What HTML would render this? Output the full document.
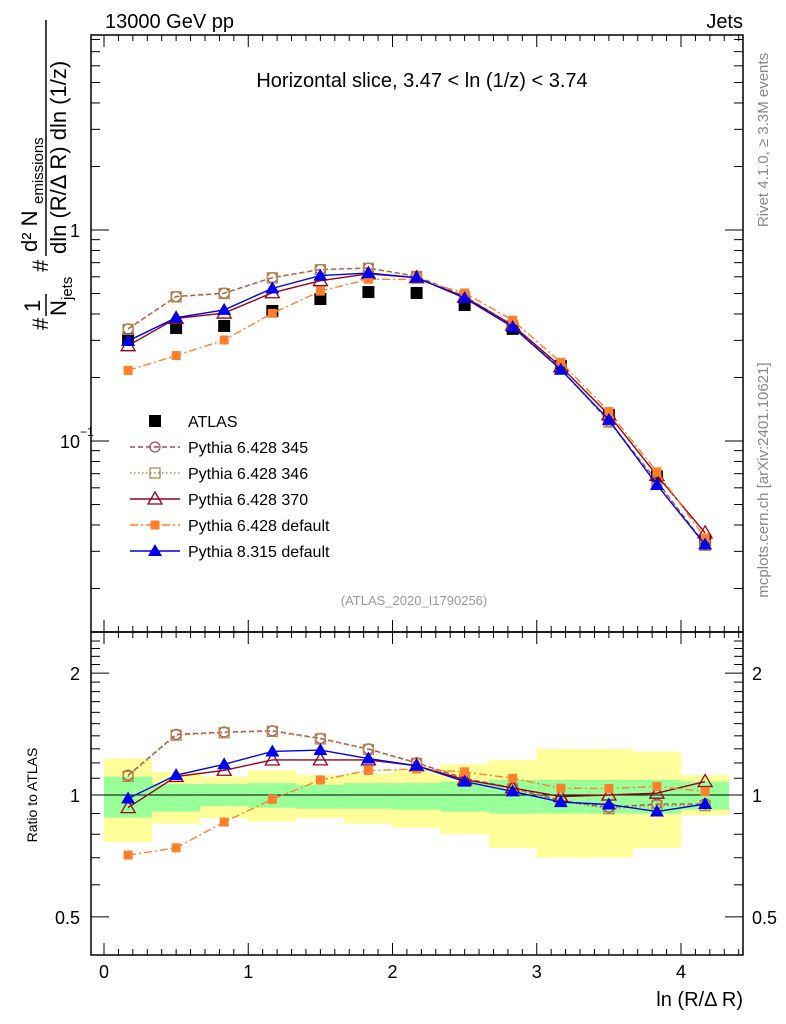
<!DOCTYPE html>
<html><head><meta charset="utf-8"><style>
body{margin:0;background:#fff;}
svg{display:block;font-family:"Liberation Sans",sans-serif;}
</style></head><body>
<svg id="chart" width="786" height="1024" xmlns="http://www.w3.org/2000/svg">
<g id="bands"></g>
<g id="axes"></g>
<g id="series"></g>
<text x="105" y="28" font-size="20">13000 GeV pp</text>
<text x="743" y="28" font-size="20" text-anchor="end">Jets</text>
<text x="422" y="87" font-size="20" text-anchor="middle">Horizontal slice, 3.47 &lt; ln (1/z) &lt; 3.74</text>
<text x="414" y="605" font-size="13" fill="#999" text-anchor="middle">(ATLAS_2020_I1790256)</text>
<text transform="translate(768,140) rotate(-90)" font-size="15" fill="#888" text-anchor="middle">Rivet 4.1.0, ≥ 3.3M events</text>
<text transform="translate(768,480) rotate(-90)" font-size="15" fill="#888" text-anchor="middle">mcplots.cern.ch [arXiv:2401.10621]</text>
<g transform="translate(48,330) rotate(-90)">
 <text x="0" y="0" font-size="22">#</text>
 <text x="18" y="-8" font-size="22">1</text>
 <line x1="14" y1="-2" x2="36" y2="-2" stroke="#000" stroke-width="1.5"/>
 <text x="14" y="18" font-size="22">N</text>
 <text x="30" y="24" font-size="15">jets</text>
 <text x="58" y="0" font-size="22">#</text>
 <text x="78" y="-11" font-size="22">d² N</text>
 <text x="126" y="-5" font-size="15">emissions</text>
 <line x1="74" y1="-2" x2="310" y2="-2" stroke="#000" stroke-width="1.5"/>
 <text x="76" y="18" font-size="22">dln (R/Δ R) dln (1/z)</text>
</g>
<text transform="translate(37,795) rotate(-90)" font-size="14" text-anchor="middle">Ratio to ATLAS</text>
<text x="743" y="1006" font-size="20" text-anchor="end">ln (R/Δ R)</text>
<g id="legend"></g>
</svg>
<script>
const xCenters=[0.167,0.5,0.833,1.167,1.5,1.833,2.167,2.5,2.833,3.167,3.5,3.833,4.167];
const binEdges=[0,0.333,0.667,1,1.333,1.667,2,2.333,2.667,3,3.333,3.667,4,4.333];
const atlas=[0.304,0.343,0.351,0.413,0.471,0.508,0.503,0.441,0.340,0.227,0.133,0.068,0.034];
const p345=[0.340,0.484,0.502,0.595,0.650,0.660,0.604,0.485,0.354,0.220,0.124,0.0646,0.0323];
const p346=[0.338,0.482,0.500,0.593,0.648,0.658,0.602,0.483,0.352,0.219,0.123,0.0640,0.0320];
const p370=[0.283,0.381,0.404,0.504,0.575,0.620,0.594,0.481,0.354,0.225,0.133,0.0687,0.0367];
const pdef=[0.216,0.254,0.301,0.403,0.513,0.584,0.583,0.503,0.374,0.236,0.138,0.0714,0.0347];
const p8=[0.298,0.384,0.418,0.529,0.608,0.625,0.594,0.476,0.347,0.218,0.126,0.0619,0.0323];
const yelHi=[1.23,1.14,1.11,1.15,1.12,1.13,1.15,1.19,1.22,1.30,1.30,1.28,1.12];
const yelLo=[0.765,0.85,0.877,0.86,0.877,0.85,0.83,0.80,0.74,0.70,0.70,0.74,0.89];
const grnHi=[1.11,1.065,1.065,1.07,1.06,1.07,1.07,1.08,1.09,1.09,1.09,1.09,1.08];
const grnLo=[0.88,0.91,0.94,0.93,0.925,0.925,0.92,0.91,0.90,0.90,0.90,0.90,0.92];
const xTicks=[0,1,2,3,4];
const legendLabels=["ATLAS","Pythia 6.428 345","Pythia 6.428 346","Pythia 6.428 370","Pythia 6.428 default","Pythia 8.315 default"];

const NS="http://www.w3.org/2000/svg";
const L=91,R=743,MT=35,MB=632,RT=632,RB=955;
const sx=v=>104+v*144.25;
const sy=v=>230-211*Math.log10(v);
const ry=v=>795-405*Math.log10(v);
function mk(tag,attrs,parent){const e=document.createElementNS(NS,tag);for(const k in attrs)e.setAttribute(k,attrs[k]);parent.appendChild(e);return e;}
const axes=document.getElementById('axes'),bands=document.getElementById('bands'),ser=document.getElementById('series'),leg=document.getElementById('legend');

for(let i=0;i<xCenters.length;i++){
 const x0=sx(binEdges[i]),x1=sx(binEdges[i+1]);
 let r=mk('rect',{x:x0,y:ry(yelHi[i]),width:x1-x0,height:ry(yelLo[i])-ry(yelHi[i]),fill:'#ffff99'},bands);
 
 
 r=mk('rect',{x:x0,y:ry(grnHi[i]),width:x1-x0,height:ry(grnLo[i])-ry(grnHi[i]),fill:'#99ff99'},bands);
 
 
}
mk('line',{x1:L,x2:R,y1:ry(1),y2:ry(1),stroke:'#000','stroke-width':1},bands);

mk('rect',{x:L,y:MT,width:R-L,height:MB-MT,fill:'none',stroke:'#000','stroke-width':1.5},axes);
mk('rect',{x:L,y:RT,width:R-L,height:RB-RT,fill:'none',stroke:'#000','stroke-width':1.5},axes);
for(let v=0;v<=4.4;v+=0.1){
 const vv=Math.round(v*10)/10,x=sx(vv);if(x>R)break;
 const major=Math.abs(vv-Math.round(vv))<1e-6;const len=major?12:6;
 [[MB,-1],[RT,1],[RB,-1],[MT,1]].forEach(([y,d])=>mk('line',{x1:x,x2:x,y1:y,y2:y+d*len,stroke:'#000'},axes));
}
xTicks.forEach(t=>{const e=mk('text',{x:sx(t),y:978,'font-size':18,'text-anchor':'middle'},axes);e.textContent=t;
 
 });
for(let d=-2;d<=0;d++){for(let m=1;m<10;m++){const v=m*Math.pow(10,d);const y=sy(v);if(y<MT||y>MB)continue;const len=m==1?18:9;
 mk('line',{x1:L,x2:L+len,y1:y,y2:y,stroke:'#000'},axes);mk('line',{x1:R,x2:R-len,y1:y,y2:y,stroke:'#000'},axes);}}
let t=mk('text',{x:80,y:237,'font-size':18,'text-anchor':'end'},axes);t.textContent='1';
t=mk('text',{x:80,y:448,'font-size':18,'text-anchor':'end'},axes);t.textContent='10';
t=mk('text',{x:80,y:436,'font-size':12},axes);t.textContent='−1';
for(let v=0.4;v<=2.5;v+=0.1){const vv=Math.round(v*10)/10;const y=ry(vv);if(y<RT||y>RB)continue;const len=(vv==0.5||vv==1||vv==2)?18:9;
 mk('line',{x1:L,x2:L+len,y1:y,y2:y,stroke:'#000'},axes);mk('line',{x1:R,x2:R-len,y1:y,y2:y,stroke:'#000'},axes);}
[[1,'1'],[2,'2'],[0.5,'0.5']].forEach(([v,s])=>{let e=mk('text',{x:80,y:ry(v)+7,'font-size':18,'text-anchor':'end'},axes);e.textContent=s;
 e=mk('text',{x:752,y:ry(v)+7,'font-size':18},axes);e.textContent=s;});

function marker(g,type,x,y,col){
 if(type=='sq') return mk('rect',{x:x-6,y:y-6,width:12,height:12,fill:'#000'},g);
 if(type=='circ') return mk('circle',{cx:x,cy:y,r:5,fill:'none',stroke:col,'stroke-width':1.3},g);
 if(type=='osq') return mk('rect',{x:x-5,y:y-5,width:10,height:10,fill:'none',stroke:col,'stroke-width':1.3},g);
 if(type=='otri') return mk('path',{d:`M${x},${y-7}L${x+7},${y+5}L${x-7},${y+5}Z`,fill:'none',stroke:col,'stroke-width':1.3},g);
 if(type=='fsq') return mk('rect',{x:x-4.5,y:y-4.5,width:9,height:9,fill:col},g);
 if(type=='ftri') return mk('path',{d:`M${x},${y-7}L${x+7},${y+5}L${x-7},${y+5}Z`,fill:col},g);
}
const defs=[
 {name:'pythia-6428-345',vals:p345,col:'#b04a5a',dash:'5,3',m:'circ'},
 {name:'pythia-6428-346',vals:p346,col:'#b08a40',dash:'1.5,2.5',m:'osq'},
 {name:'pythia-6428-370',vals:p370,col:'#99001a',dash:'',m:'otri'},
 {name:'pythia-6428-default',vals:pdef,col:'#ff7f2a',dash:'8,3,2,3',m:'fsq'},
 {name:'pythia-8315-default',vals:p8,col:'#0000ee',dash:'',m:'ftri'}];
const ga=mk('g',{},ser);


atlas.forEach((v,i)=>marker(ga,'sq',sx(xCenters[i]),sy(v)));
defs.forEach(d=>{
 const g=mk('g',{},ser);
 
 
 const pts=d.vals.map((v,i)=>sx(xCenters[i])+','+sy(v)).join(' ');
 mk('polyline',{points:pts,fill:'none',stroke:d.col,'stroke-width':1.4,'stroke-dasharray':d.dash},g);
 const rpts=d.vals.map((v,i)=>sx(xCenters[i])+','+ry(v/atlas[i])).join(' ');
 mk('polyline',{points:rpts,fill:'none',stroke:d.col,'stroke-width':1.4,'stroke-dasharray':d.dash},g);
 d.vals.forEach((v,i)=>{marker(g,d.m,sx(xCenters[i]),sy(v),d.col);marker(g,d.m,sx(xCenters[i]),ry(v/atlas[i]),d.col);});
});
const styles=[{m:'sq'}].concat(defs);
legendLabels.forEach((s,i)=>{
 const y=421+i*26;const g=mk('g',{},leg);
 
 
 const st=styles[i];
 if(i>0) mk('line',{x1:130,x2:180,y1:y,y2:y,stroke:st.col,'stroke-width':1.4,'stroke-dasharray':st.dash},g);
 marker(g,st.m,155,y,st.col);
 const e=mk('text',{x:188,y:y+6,'font-size':16},g);e.textContent=s;
});
</script>
</body></html>
